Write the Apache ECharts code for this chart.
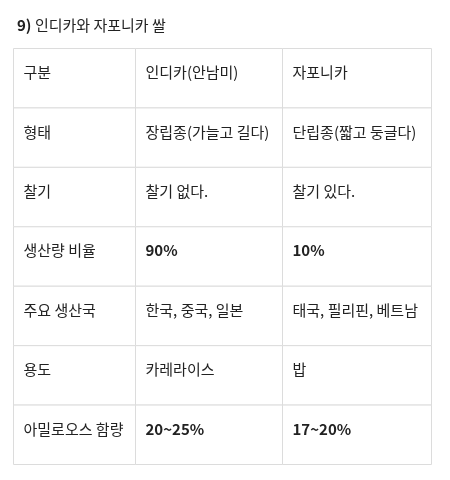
<!DOCTYPE html>
<html>
<head>
  <meta charset="UTF-8">
  <title>인디카와 자포니카 쌀</title>
  <script src="https://cdn.jsdelivr.net/npm/echarts@6/dist/echarts.min.js"></script>
  <style>
    html, body { margin: 0; padding: 0; background: #fff; }
  </style>
</head>
<body>
  <div id="main" style="width: 450px; height: 480px;"></div>

  <script>
    // 표 데이터
    var rowLabels = ['구분', '형태', '찰기', '생산량 비율', '주요 생산국', '용도', '아밀로오스 함량'];
    var indicaCol = ['인디카(안남미)', '장립종(가늘고 길다)', '찰기 없다.', '90%', '한국, 중국, 일본', '카레라이스', '20~25%'];
    var japonicaCol = ['자포니카', '단립종(짧고 둥글다)', '찰기 있다.', '10%', '태국, 필리핀, 베트남', '밥', '17~20%'];
    var boldCells = ['90%', '10%', '20~25%', '17~20%'];

    var columns = [rowLabels, indicaCol, japonicaCol];
    var colWeights = [122, 147, 149];
    var fontFamily = '"Noto Sans CJK KR", "Noto Sans", sans-serif';
    var fontSize = 15;

    var cells = [];
    columns.forEach(function (col, c) {
      col.forEach(function (txt, r) {
        cells.push([c, r, txt]);
      });
    });

    var totalWeight = colWeights.reduce(function (a, b) { return a + b; }, 0);

    function renderCell(params, api) {
      var c = api.value(0);
      var r = api.value(1);
      var txt = cells[params.dataIndex][2];
      var sys = params.coordSys;
      var before = 0;
      for (var i = 0; i < c; i++) before += colWeights[i];
      var x0 = sys.x + sys.width * before / totalWeight;
      var w = sys.width * colWeights[c] / totalWeight;
      var center = api.coord([c, r]);
      var h = api.size([1, 1])[1];
      var y0 = center[1] - h / 2;
      return {
        type: 'group',
        children: [{
          type: 'rect',
          shape: { x: x0, y: y0, width: w, height: h },
          style: { fill: '#fff', stroke: '#dcdcdc', lineWidth: 1 }
        }, {
          type: 'text',
          style: {
            x: x0 + 10,
            y: y0 + 24,
            text: txt,
            fill: '#222',
            font: (boldCells.indexOf(txt) >= 0 ? 'bold ' : '') + fontSize + 'px ' + fontFamily,
            verticalAlign: 'middle',
            align: 'left'
          }
        }]
      };
    }

    var chart = echarts.init(document.getElementById('main'));
    chart.setOption({
      animation: false,
      title: {
        text: '{b|9)} 인디카와 자포니카 쌀',
        left: 12,
        top: 13,
        textStyle: {
          fontFamily: fontFamily,
          fontSize: fontSize,
          fontWeight: 'normal',
          color: '#222',
          rich: {
            b: { fontFamily: fontFamily, fontSize: fontSize, fontWeight: 'bold', color: '#222' }
          }
        }
      },
      grid: { left: 13.5, top: 48.5, width: 418, height: 416 },
      xAxis: {
        type: 'category',
        data: ['0', '1', '2'],
        show: false
      },
      yAxis: {
        type: 'category',
        data: rowLabels,
        inverse: true,
        show: false
      },
      series: [{
        type: 'custom',
        renderItem: renderCell,
        data: cells.map(function (d) { return [d[0], d[1]]; }),
        silent: true
      }]
    });
  </script>
</body>
</html>
